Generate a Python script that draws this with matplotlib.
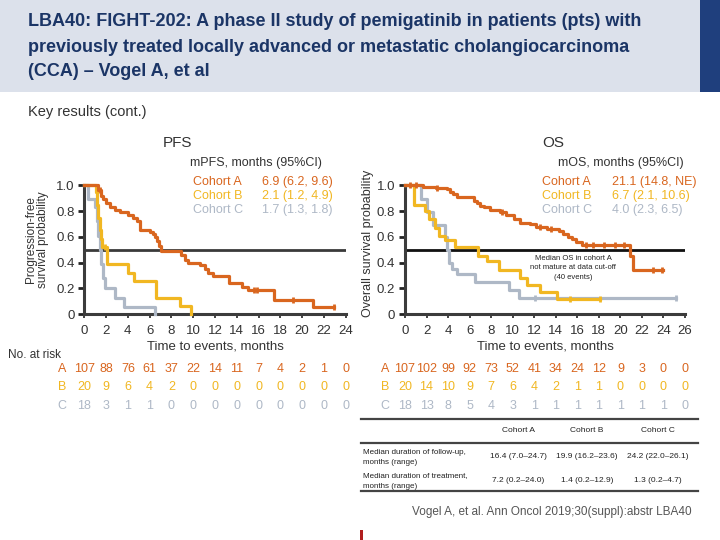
import matplotlib
matplotlib.use("Agg")
from matplotlib import pyplot as plt
import matplotlib.patches as mpatches
from matplotlib.lines import Line2D

plt.rcParams['font.family'] = ['Liberation Sans', 'DejaVu Sans']
NARROW = ['Liberation Sans Narrow', 'Liberation Sans', 'DejaVu Sans']

W, H = 720, 540

# Kolory kohort
COL_A = '#D9661F'
COL_B = '#F1B722'
COL_C = '#AEB8C6'
TXT = '#333333'

# --- PFS (Kaplan-Meier) ---
pfs_a_t = [0, 1.3, 1.5, 1.7, 2.0, 2.4, 2.8, 3.3, 4.0, 4.5, 4.8, 5.1, 6.0, 6.3, 6.5, 6.7, 6.9, 7.0,
           8.9, 9.2, 9.5, 10.6, 11.1, 11.4, 11.8, 13.3, 14.5, 15.0, 17.4, 21.0, 22.9]
pfs_a_s = [1.0, 0.96, 0.92, 0.89, 0.86, 0.83, 0.81, 0.79, 0.77, 0.75, 0.72, 0.65, 0.64, 0.62, 0.60, 0.57, 0.53, 0.49,
           0.46, 0.42, 0.40, 0.38, 0.35, 0.32, 0.30, 0.24, 0.21, 0.19, 0.11, 0.06, 0.06]
pfs_a_cens = [1.4, 15.6, 15.9, 19.2, 22.9]
pfs_a_cens_s = [0.96, 0.19, 0.19, 0.11, 0.06]

pfs_b_t = [0, 1.1, 1.2, 1.3, 1.4, 1.5, 1.6, 2.1, 4.0, 4.6, 6.6, 8.8, 9.8]
pfs_b_s = [1.0, 0.95, 0.85, 0.75, 0.65, 0.58, 0.52, 0.39, 0.32, 0.26, 0.13, 0.065, 0.0]
pfs_b_cens = [1.9]
pfs_b_cens_s = [0.52]

pfs_c_t = [0, 0.3, 1.0, 1.15, 1.3, 1.45, 1.55, 1.7, 1.9, 2.8, 3.6, 6.5]
pfs_c_s = [1.0, 0.89, 0.83, 0.72, 0.61, 0.50, 0.39, 0.28, 0.20, 0.13, 0.06, 0.0]

# --- OS ---
os_a_t = [0, 1.7, 2.9, 3.9, 4.2, 4.5, 4.8, 6.4, 6.7, 7.0, 7.3, 7.9, 8.8, 9.4, 10.1, 10.7, 11.6, 12.2,
          13.2, 14.3, 14.7, 15.1, 15.5, 15.9, 16.4, 20.9, 21.2, 24.0]
os_a_s = [1.0, 0.99, 0.98, 0.97, 0.95, 0.93, 0.91, 0.88, 0.86, 0.84, 0.83, 0.81, 0.79, 0.77, 0.74, 0.71, 0.70, 0.68,
          0.665, 0.645, 0.62, 0.60, 0.58, 0.56, 0.535, 0.45, 0.34, 0.34]
os_a_cens = [0.5, 1.0, 3.0, 9.0, 12.5, 13.6, 16.8, 17.5, 18.5, 19.5, 20.3, 23.0, 23.9]
os_a_cens_s = [1.0, 1.0, 0.98, 0.79, 0.68, 0.665, 0.535, 0.535, 0.535, 0.535, 0.535, 0.34, 0.34]

os_b_t = [0, 0.8, 1.9, 2.2, 2.8, 3.2, 3.7, 4.6, 6.8, 7.6, 8.7, 10.7, 11.3, 12.5, 14.1, 18.1]
os_b_s = [1.0, 0.85, 0.80, 0.74, 0.67, 0.61, 0.575, 0.52, 0.45, 0.41, 0.345, 0.28, 0.23, 0.17, 0.115, 0.115]
os_b_cens = [15.3, 18.1]
os_b_cens_s = [0.115, 0.115]

os_c_t = [0, 1.5, 2.0, 2.6, 3.7, 3.9, 4.1, 4.4, 4.8, 6.5, 9.7, 10.6, 25.2]
os_c_s = [1.0, 0.89, 0.79, 0.69, 0.60, 0.50, 0.40, 0.35, 0.31, 0.25, 0.19, 0.13, 0.13]
os_c_cens = [12.1, 25.2]
os_c_cens_s = [0.13, 0.13]

# --- Liczba pacjentów w ryzyku ---
pfs_risk_times = list(range(0, 25, 2))
pfs_risk_a = [107, 88, 76, 61, 37, 22, 14, 11, 7, 4, 2, 1, 0]
pfs_risk_b = [20, 9, 6, 4, 2, 0, 0, 0, 0, 0, 0, 0, 0]
pfs_risk_c = [18, 3, 1, 1, 0, 0, 0, 0, 0, 0, 0, 0, 0]

os_risk_times = list(range(0, 27, 2))
os_risk_a = [107, 102, 99, 92, 73, 52, 41, 34, 24, 12, 9, 3, 0, 0]
os_risk_b = [20, 14, 10, 9, 7, 6, 4, 2, 1, 1, 0, 0, 0, 0]
os_risk_c = [18, 13, 8, 5, 4, 3, 1, 1, 1, 1, 1, 1, 1, 0]

pfs_medians = ['6.9 (6.2, 9.6)', '2.1 (1.2, 4.9)', '1.7 (1.3, 1.8)']
os_medians = ['21.1 (14.8, NE)', '6.7 (2.1, 10.6)', '4.0 (2.3, 6.5)']
cohorts = ['Cohort A', 'Cohort B', 'Cohort C']
colors = [COL_A, COL_B, COL_C]

table_cols = ['Cohort A', 'Cohort B', 'Cohort C']
table_rows = ['Median duration of follow-up,\nmonths (range)', 'Median duration of treatment,\nmonths (range)']
table_vals = [['16.4 (7.0–24.7)', '19.9 (16.2–23.6)', '24.2 (22.0–26.1)'],
              ['7.2 (0.2–24.0)', '1.4 (0.2–12.9)', '1.3 (0.2–4.7)']]


def fx(px):
    return px / W


def fy(py):
    return 1 - py / H


def ftext(px, py, s, **kw):
    fig.text(fx(px), fy(py), s, **kw)


fig = plt.figure(figsize=(7.2, 5.4), dpi=100)
fig.patch.set_facecolor('white')

# Nagłówek
fig.patches.append(mpatches.Rectangle((0, fy(92)), 1, 92 / H, transform=fig.transFigure,
                                      facecolor='#DCE1EB', edgecolor='none', zorder=0))
fig.patches.append(mpatches.Rectangle((fx(700), fy(92)), 20 / W, 92 / H, transform=fig.transFigure,
                                      facecolor='#1F3F7D', edgecolor='none', zorder=0))
title_lines = ['LBA40: FIGHT-202: A phase II study of pemigatinib in patients (pts) with',
               'previously treated locally advanced or metastatic cholangiocarcinoma',
               '(CCA) – Vogel A, et al']
for i, line in enumerate(title_lines):
    ftext(28, 22 + 25 * i, line, family=NARROW, fontsize=13, fontweight='bold',
          color='#1B3566', va='center', ha='left')

ftext(28, 112, 'Key results (cont.)', fontsize=10.5, color=TXT, va='center')
ftext(178, 143, 'PFS', fontsize=11, color=TXT, va='center', ha='center')
ftext(553, 143, 'OS', fontsize=11, color=TXT, va='center', ha='center')


def make_axes(left_px, right_px, xmax):
    top_px = 314.3 - 129 * 1.02
    ax = fig.add_axes([fx(left_px), fy(314.3), (right_px - left_px) / W, (314.3 - top_px) / H])
    ax.set_xlim(0, xmax)
    ax.set_ylim(0, 1.02)
    for s in ['top', 'right']:
        ax.spines[s].set_visible(False)
    for s in ['left', 'bottom']:
        ax.spines[s].set_color('#3C3C3C')
        ax.spines[s].set_linewidth(2.2)
    ax.spines['left'].set_bounds(0, 1.0)
    ax.set_yticks([0, 0.2, 0.4, 0.6, 0.8, 1.0])
    ax.set_yticklabels(['0', '0.2', '0.4', '0.6', '0.8', '1.0'])
    ax.set_xticks(range(0, xmax + 1, 2))
    ax.tick_params(axis='y', direction='out', length=4, width=2, colors='#222222',
                   labelsize=9.5, labelcolor=TXT, pad=3)
    ax.tick_params(axis='x', direction='out', length=3, width=1.2, colors='#222222',
                   labelsize=9.5, labelcolor=TXT, pad=5)
    ax.patch.set_alpha(0)
    return ax


def draw_km(ax, t, s, color, cens=None, cens_s=None):
    ax.step(t, s, where='post', color=color, lw=2.3, clip_on=False, zorder=3)
    if cens:
        ax.plot(cens, cens_s, linestyle='', marker='|', markersize=5, mew=2,
                color=color, clip_on=False, zorder=4)


# Wykres PFS
ax1 = make_axes(84.3, 345.7, 24)
ax1.hlines(0.5, 0, 24, color='#3A3A3A', lw=2, zorder=2)
draw_km(ax1, pfs_c_t, pfs_c_s, COL_C)
draw_km(ax1, pfs_b_t, pfs_b_s, COL_B, pfs_b_cens, pfs_b_cens_s)
draw_km(ax1, pfs_a_t, pfs_a_s, COL_A, pfs_a_cens, pfs_a_cens_s)
ax1.set_xlabel('Time to events, months', fontsize=9.5, color=TXT, labelpad=2)

# Wykres OS
ax2 = make_axes(405, 685, 26)
ax2.hlines(0.5, 0, 26, color='#111111', lw=2, zorder=2)
draw_km(ax2, os_c_t, os_c_s, COL_C, os_c_cens, os_c_cens_s)
draw_km(ax2, os_b_t, os_b_s, COL_B, os_b_cens, os_b_cens_s)
draw_km(ax2, os_a_t, os_a_s, COL_A, os_a_cens, os_a_cens_s)
ax2.set_xlabel('Time to events, months', fontsize=9.5, color=TXT, labelpad=2)
ax2.text(15.6, 0.36, 'Median OS in cohort A\nnot mature at data cut-off\n(40 events)',
         fontsize=5.5, color='#222222', ha='center', va='center', linespacing=1.5)

# Opisy osi Y
ftext(37, 240, 'Progression-free\nsurvival probability', fontsize=8.5, color=TXT,
      rotation=90, ha='center', va='center', linespacing=1.0)
ftext(368, 243, 'Overall survival probability', fontsize=9, color=TXT,
      rotation=90, ha='center', va='center')

# Legendy z medianami
ftext(322, 163, 'mPFS, months (95%CI)', fontsize=9, color=TXT, ha='right', va='center')
ftext(684, 163, 'mOS, months (95%CI)', fontsize=9, color=TXT, ha='right', va='center')
for i in range(3):
    y = 182 + 14 * i
    ftext(193, y, cohorts[i], fontsize=9, color=colors[i], va='center')
    ftext(262, y, pfs_medians[i], fontsize=9, color=colors[i], va='center')
    ftext(542, y, cohorts[i], fontsize=9, color=colors[i], va='center')
    ftext(612, y, os_medians[i], fontsize=9, color=colors[i], va='center')

# Tabela liczby pacjentów w ryzyku
ftext(8, 355, 'No. at risk', family=NARROW, fontsize=8.5, color=TXT, va='center')
risk_y = [369, 387, 406]
for ax, times, rows, letter_x in [(ax1, pfs_risk_times, [pfs_risk_a, pfs_risk_b, pfs_risk_c], 62),
                                  (ax2, os_risk_times, [os_risk_a, os_risk_b, os_risk_c], 385)]:
    for r, (row, name) in enumerate(zip(rows, ['A', 'B', 'C'])):
        ftext(letter_x, risk_y[r], name, family=NARROW, fontsize=9, color=colors[r],
              ha='center', va='center')
        for t, n in zip(times, row):
            xp = ax.transData.transform((t, 0))[0] / fig.dpi / fig.get_figwidth() * W
            ftext(xp, risk_y[r], str(n), family=NARROW, fontsize=9, color=colors[r],
                  ha='center', va='center')

# Tabela z medianami obserwacji
for yl in [419, 443, 491]:
    fig.add_artist(Line2D([fx(361), fx(698)], [fy(yl), fy(yl)], color='#444444', lw=1.6))
col_x = [518, 587, 658]
for x, name in zip(col_x, table_cols):
    ftext(x, 430, name, fontsize=6, color='#222222', ha='center', va='center')
for r, (label, vals) in enumerate(zip(table_rows, table_vals)):
    yc = 457 + 24 * r
    ftext(363, yc, label, fontsize=5.8, color='#222222', ha='left', va='center', linespacing=1.6)
    for x, v in zip(col_x, vals):
        ftext(x, yc, v, fontsize=6, color='#222222', ha='center', va='center')

ftext(692, 512, 'Vogel A, et al. Ann Oncol 2019;30(suppl):abstr LBA40', fontsize=8.5,
      color='#555555', ha='right', va='center')
fig.patches.append(mpatches.Rectangle((fx(360), 0), 3 / W, 10 / H, transform=fig.transFigure,
                                      facecolor='#B01E1E', edgecolor='none'))

fig.savefig('out.png', dpi=100)
